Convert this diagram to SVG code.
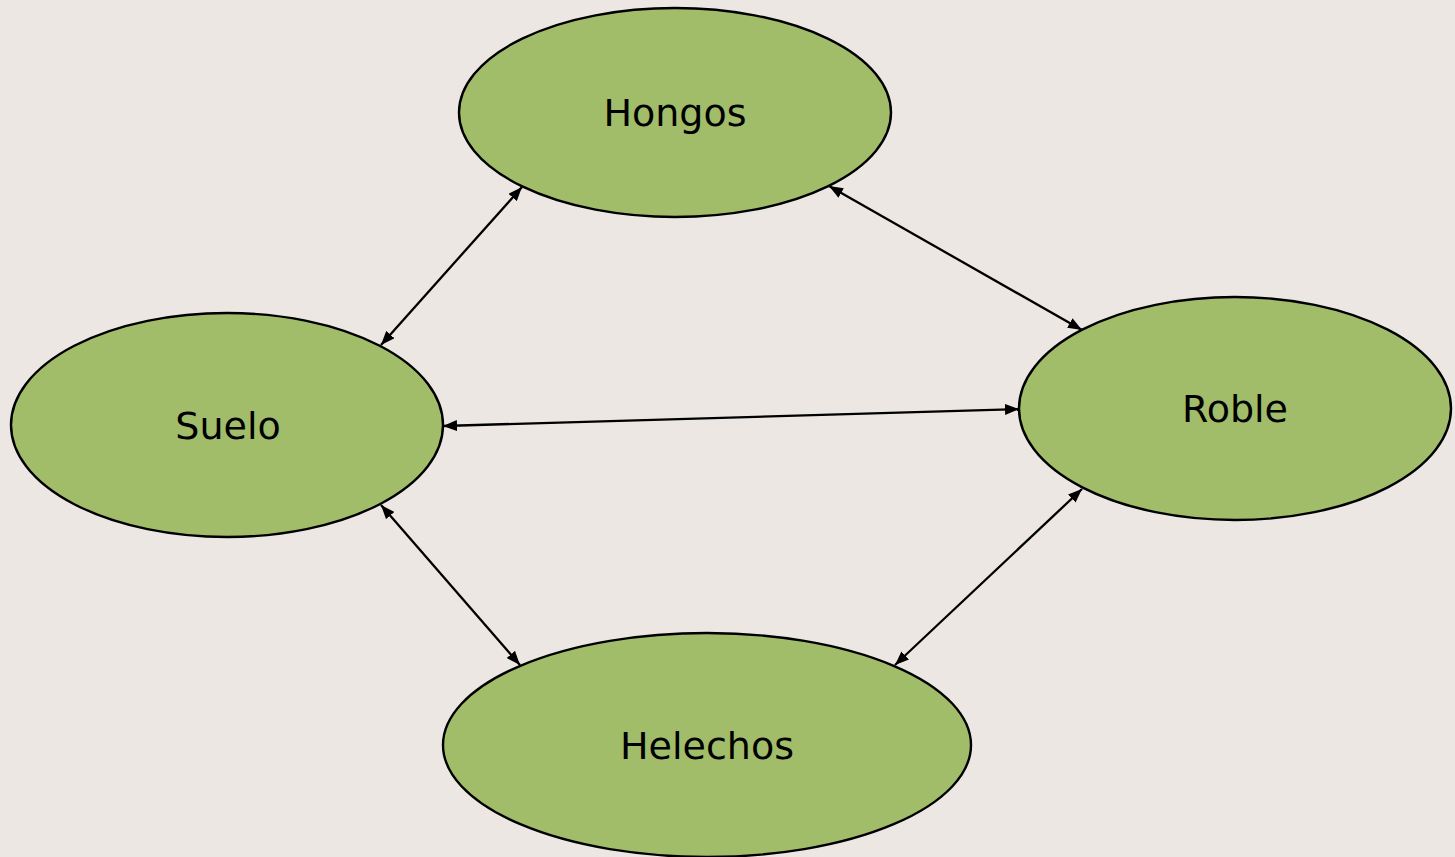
<svg xmlns="http://www.w3.org/2000/svg" width="1455" height="857" viewBox="0 0 1455 857">
<defs>
<style>
.node{fill:#a1bd6a;stroke:#000;stroke-width:2.4}
.lbl{font-family:"DejaVu Sans",sans-serif;font-size:38px;fill:#000;text-anchor:middle}
.edge{stroke:#000;stroke-width:2.3;fill:none;marker-start:url(#ah);marker-end:url(#ah)}
</style>
<marker id="ah" viewBox="0 0 14 11" refX="14" refY="5.5" markerWidth="14" markerHeight="11" orient="auto-start-reverse" markerUnits="userSpaceOnUse">
<path d="M0,0 L14,5.5 L0,11 z" fill="#000"/>
</marker>
</defs>
<rect width="1455" height="857" fill="#ece7e3"/>
<g id="nodes">
<g id="hongos"><ellipse class="node" cx="675" cy="112.5" rx="216" ry="104.5"/><text class="lbl" x="675" y="126">Hongos</text></g>
<g id="suelo"><ellipse class="node" cx="227" cy="425" rx="216" ry="112"/><text class="lbl" x="228" y="439">Suelo</text></g>
<g id="roble"><ellipse class="node" cx="1235" cy="408.5" rx="216" ry="111.5"/><text class="lbl" x="1235" y="422">Roble</text></g>
<g id="helechos"><ellipse class="node" cx="707" cy="745" rx="264" ry="112"/><text class="lbl" x="707" y="759">Helechos</text></g>
</g>
<g id="connectors">
<line class="edge" x1="381" y1="345" x2="522" y2="187"/>
<line class="edge" x1="829" y1="186" x2="1082" y2="330"/>
<line class="edge" x1="443" y1="426" x2="1019" y2="409"/>
<line class="edge" x1="381" y1="505" x2="520" y2="665"/>
<line class="edge" x1="1082" y1="489" x2="895" y2="665"/>
</g>
</svg>
